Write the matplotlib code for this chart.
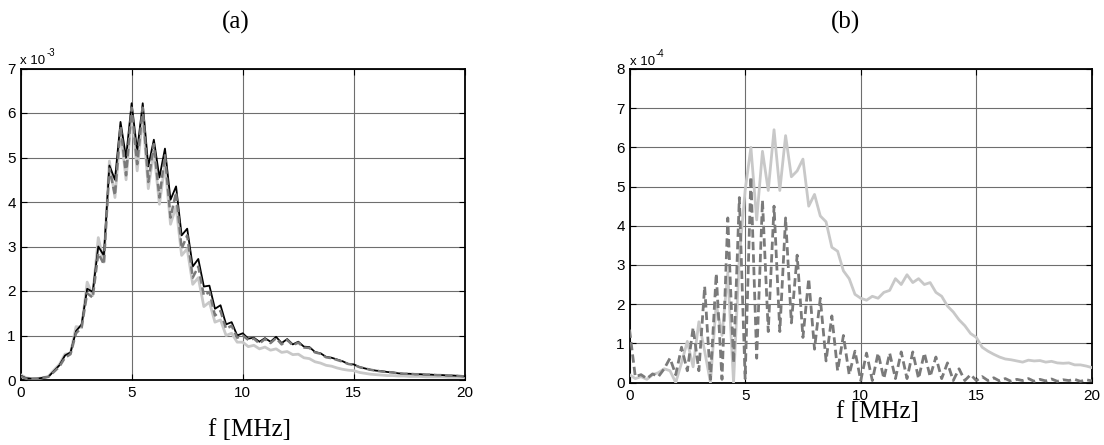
import numpy as np
import matplotlib
matplotlib.use("Agg")
import matplotlib.pyplot as plt

# ---------------- data ----------------
freq_a = np.arange(0, 20.001, 0.25)   # MHz
scale_a = 1e-3
black_a = [0.10, 0.04, 0.03, 0.03, 0.05, 0.07, 0.20, 0.33, 0.55, 0.62,
           1.10, 1.25, 2.05, 1.98, 3.00, 2.80, 4.82, 4.50, 5.80, 5.00,
           6.22, 5.15, 6.22, 4.80, 5.40, 4.55, 5.20, 4.05, 4.35, 3.25,
           3.40, 2.55, 2.72, 2.10, 2.12, 1.60, 1.68, 1.25, 1.30, 1.00,
           1.05, 0.93, 0.95, 0.86, 0.94, 0.86, 0.97, 0.83, 0.92, 0.80,
           0.86, 0.75, 0.74, 0.63, 0.60, 0.52, 0.50, 0.46, 0.42, 0.36,
           0.35, 0.29, 0.26, 0.23, 0.21, 0.20, 0.18, 0.17, 0.15, 0.14,
           0.14, 0.13, 0.13, 0.12, 0.12, 0.11, 0.11, 0.10, 0.10, 0.09, 0.08]
dashed_a = [0.08, 0.03, 0.02, 0.03, 0.05, 0.07, 0.18, 0.30, 0.50, 0.58,
            1.05, 1.18, 1.95, 1.85, 2.85, 2.60, 4.75, 4.15, 5.70, 4.60,
            6.12, 4.85, 6.12, 4.45, 5.30, 4.10, 5.05, 3.65, 4.22, 2.95,
            3.25, 2.30, 2.55, 1.90, 1.98, 1.45, 1.55, 1.15, 1.22, 0.95,
            1.00, 0.90, 0.93, 0.82, 0.92, 0.83, 0.94, 0.80, 0.90, 0.78,
            0.84, 0.73, 0.72, 0.62, 0.59, 0.51, 0.49, 0.45, 0.41, 0.36,
            0.34, 0.29, 0.26, 0.23, 0.21, 0.19, 0.18, 0.17, 0.15, 0.14,
            0.14, 0.13, 0.13, 0.12, 0.12, 0.11, 0.11, 0.10, 0.10, 0.09, 0.08]
light_a = [0.12, 0.05, 0.03, 0.03, 0.05, 0.08, 0.22, 0.35, 0.58, 0.60,
           1.20, 1.18, 2.20, 1.90, 3.20, 2.65, 4.92, 4.10, 5.60, 4.50,
           6.00, 4.70, 5.95, 4.30, 5.15, 3.95, 4.85, 3.50, 3.90, 2.80,
           2.95, 2.15, 2.30, 1.65, 1.75, 1.30, 1.35, 1.00, 1.05, 0.85,
           0.85, 0.75, 0.78, 0.70, 0.74, 0.67, 0.70, 0.62, 0.64, 0.57,
           0.58, 0.50, 0.48, 0.41, 0.38, 0.33, 0.31, 0.27, 0.24, 0.22,
           0.21, 0.17, 0.15, 0.13, 0.12, 0.11, 0.10, 0.10, 0.09, 0.09,
           0.08, 0.08, 0.08, 0.07, 0.07, 0.07, 0.07, 0.06, 0.06, 0.06, 0.06]

freq_b = np.arange(0, 20.001, 0.25)   # MHz
scale_b = 1e-4
dashed_b = [1.35, 0.15, 0.20, 0.10, 0.22, 0.15, 0.35, 0.62, 0.20, 0.90,
            0.30, 1.40, 0.30, 2.45, 0.08, 2.78, 0.08, 4.20, 0.50, 4.72,
            0.10, 5.25, 0.62, 4.65, 1.30, 4.50, 1.30, 4.20, 1.52, 3.25,
            1.15, 2.65, 0.85, 2.15, 0.55, 1.70, 0.30, 1.20, 0.20, 0.80,
            0.05, 0.75, 0.05, 0.75, 0.10, 0.75, 0.10, 0.78, 0.10, 0.78,
            0.10, 0.75, 0.15, 0.65, 0.10, 0.50, 0.05, 0.35, 0.05, 0.20,
            0.05, 0.15, 0.05, 0.12, 0.04, 0.10, 0.03, 0.08, 0.05, 0.10,
            0.03, 0.08, 0.04, 0.09, 0.03, 0.07, 0.05, 0.08, 0.03, 0.07, 0.04]
light_b = [0.20, 0.10, 0.15, 0.08, 0.20, 0.25, 0.35, 0.30, 0.00, 0.50,
           1.05, 0.40, 1.55, 0.80, 0.00, 2.00, 1.20, 2.80, 0.00, 3.20,
           4.90, 6.00, 4.15, 5.90, 4.90, 6.45, 4.90, 6.30, 5.25, 5.40,
           5.70, 4.50, 4.80, 4.25, 4.10, 3.45, 3.35, 2.85, 2.65, 2.25,
           2.15, 2.10, 2.20, 2.15, 2.30, 2.35, 2.65, 2.50, 2.75, 2.55,
           2.65, 2.50, 2.55, 2.30, 2.20, 1.95, 1.80, 1.60, 1.45, 1.25,
           1.15, 0.90, 0.80, 0.72, 0.65, 0.60, 0.58, 0.55, 0.52, 0.57,
           0.55, 0.56, 0.52, 0.54, 0.50, 0.49, 0.50, 0.45, 0.45, 0.42, 0.38]

xticks = [0, 5, 10, 15, 20]
yticks_a = [0, 1, 2, 3, 4, 5, 6, 7]
yticks_b = [0, 1, 2, 3, 4, 5, 6, 7, 8]
panel_titles = ["(a)", "(b)"]
xlabel_text = "f [MHz]"
exponents = ["-3", "-4"]

# ---------------- style ----------------
SANS = ["Liberation Sans", "DejaVu Sans"]
SERIF = ["Liberation Serif", "DejaVu Serif"]
W, H = 1104, 445
fig = plt.figure(figsize=(W / 100, H / 100), dpi=100)

def px_axes(l, r, t, b):
    return [l / W, (H - b) / H, (r - l) / W, (b - t) / H]

ax_a = fig.add_axes(px_axes(20.5, 465, 68.5, 380))
ax_b = fig.add_axes(px_axes(629.5, 1092, 69, 382.5))

LIGHT = "#c8c8c8"
DARK = "#7a7a7a"

ax_a.plot(freq_a, np.array(light_a) * scale_a, color=LIGHT, lw=2.0, zorder=3)
ax_a.plot(freq_a, np.array(black_a) * scale_a, color="black", lw=1.3, zorder=4)
ax_a.plot(freq_a, np.array(dashed_a) * scale_a, color=DARK, lw=1.8,
          ls=(0, (3, 1.5)), zorder=5)

ax_b.plot(freq_b, np.array(light_b) * scale_b, color=LIGHT, lw=2.0, zorder=3)
ax_b.plot(freq_b, np.array(dashed_b) * scale_b, color=DARK, lw=2.0,
          ls=(0, (3, 1.5)), zorder=4)

for ax, yt, sc in ((ax_a, yticks_a, scale_a), (ax_b, yticks_b, scale_b)):
    ax.set_xlim(0, 20)
    ax.set_ylim(0, yt[-1] * sc)
    ax.set_xticks(xticks)
    ax.set_xticklabels([str(v) for v in xticks])
    ax.set_yticks([v * sc for v in yt])
    ax.set_yticklabels([str(v) for v in yt])
    ax.grid(True, color="#6e6e6e", lw=0.8, ls="-", zorder=1)
    ax.set_axisbelow(True)
    ax.tick_params(direction="in", length=4, width=0.8, top=True, right=True,
                   labelsize=11)
    ax.tick_params(axis="y", pad=3.5)
    ax.tick_params(axis="x", pad=4.5)
    for lab in ax.get_xticklabels() + ax.get_yticklabels():
        lab.set_family(SANS)
    for s in ax.spines.values():
        s.set_linewidth(1.3)
        s.set_color("black")

def fy(y):
    return (H - y) / H

# multipliers
fig.text(20.5 / W, fy(64), "x 10", fontsize=9.5, family=SANS, va="baseline", ha="left")
fig.text(47 / W, fy(56), exponents[0], fontsize=7, family=SANS, va="baseline", ha="left")
fig.text(629.5 / W, fy(65), "x 10", fontsize=9.5, family=SANS, va="baseline", ha="left")
fig.text(656 / W, fy(57), exponents[1], fontsize=7, family=SANS, va="baseline", ha="left")

# panel titles and x labels
fig.text(236 / W, fy(22), panel_titles[0], fontsize=18, family=SERIF, ha="center", va="center")
fig.text(845 / W, fy(22), panel_titles[1], fontsize=18, family=SERIF, ha="center", va="center")
fig.text(250 / W, fy(430), xlabel_text, fontsize=18, family=SERIF, ha="center", va="center")
fig.text(878 / W, fy(412), xlabel_text, fontsize=18, family=SERIF, ha="center", va="center")

fig.savefig("out.png", dpi=100)
